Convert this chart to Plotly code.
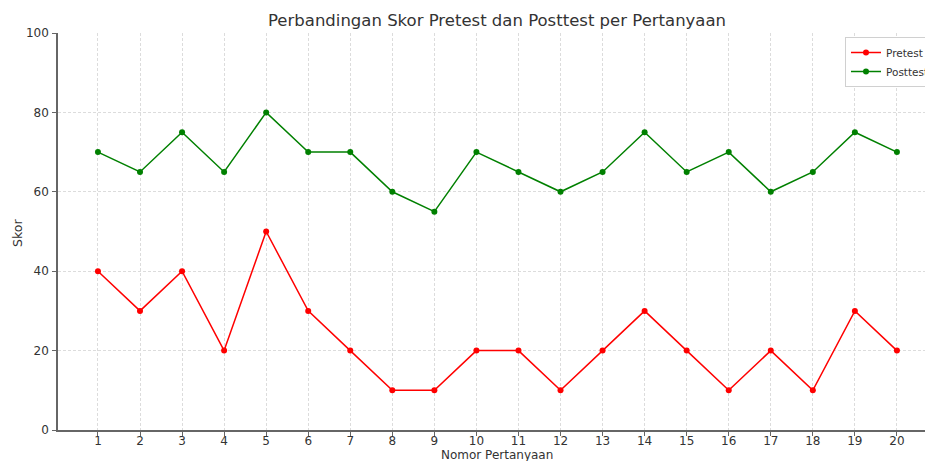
import plotly.graph_objects as go

questions = list(range(1, 21))
pretest = [40, 30, 40, 20, 50, 30, 20, 10, 10, 20, 20, 10, 20, 30, 20, 10, 20, 10, 30, 20]
posttest = [70, 65, 75, 65, 80, 70, 70, 60, 55, 70, 65, 60, 65, 75, 65, 70, 60, 65, 75, 70]

W, H = 925, 461
L, R, T, B = 58, 0, 33, 31

fig = go.Figure()
fig.add_trace(go.Scatter(x=questions, y=pretest, mode="lines+markers", name="Pretest",
                         line=dict(color="#ff0000", width=1.5),
                         marker=dict(color="#ff0000", size=6)))
fig.add_trace(go.Scatter(x=questions, y=posttest, mode="lines+markers", name="Posttest",
                         line=dict(color="#008000", width=1.5),
                         marker=dict(color="#008000", size=6)))

font = "DejaVu Sans, sans-serif"
fig.update_layout(
    width=W, height=H,
    margin=dict(l=L, r=R, t=T, b=B, pad=0, autoexpand=False),
    paper_bgcolor="white", plot_bgcolor="white",
    font=dict(family=font, size=12, color="#333333"),
    showlegend=True,
    legend=dict(x=(845 - L) / (W - L - R), y=1 - (37 - T) / (H - T - B),
                xanchor="left", yanchor="top",
                bordercolor="#d0d0d0", borderwidth=1, bgcolor="white",
                font=dict(size=10.5, color="#333333"),
                itemwidth=30, tracegroupgap=0),
    xaxis=dict(range=[0.05, 1 + (W - R - 97) / 42.1],
               tickmode="array", tickvals=questions, ticktext=[str(q) for q in questions],
               showgrid=True, gridcolor="#dcdcdc", griddash="3px,2px", gridwidth=0.8,
               showline=True, linecolor="#666666", linewidth=1.5,
               ticks="outside", ticklen=4, tickcolor="#666666",
               ticklabelstandoff=-5,
               tickfont=dict(size=12, color="#333333"), zeroline=False),
    yaxis=dict(range=[0, 100], tickvals=[0, 20, 40, 60, 80, 100],
               showgrid=True, gridcolor="#dcdcdc", griddash="3px,2px", gridwidth=0.8,
               showline=True, linecolor="#666666", linewidth=1.5,
               ticks="outside", ticklen=4, tickcolor="#666666",
               ticklabelstandoff=1,
               tickfont=dict(size=12, color="#333333"), zeroline=False),
    annotations=[
        dict(text="Perbandingan Skor Pretest dan Posttest per Pertanyaan",
             xref="paper", yref="paper", x=(497 - L) / (W - L - R), y=1 + (33 - 20) / (H - T - B),
             xanchor="center", yanchor="middle", showarrow=False,
             font=dict(size=16.5, color="#333333", family=font)),
        dict(text="Nomor Pertanyaan", xref="paper", yref="paper",
             x=(497 - L) / (W - L - R), y=-(454.5 - 430) / (H - T - B),
             xanchor="center", yanchor="middle", showarrow=False,
             font=dict(size=12, color="#333333", family=font)),
        dict(text="Skor", xref="paper", yref="paper",
             x=-(L - 17) / (W - L - R), y=(430 - 233) / (H - T - B),
             xanchor="center", yanchor="middle", showarrow=False, textangle=-90,
             font=dict(size=12.5, color="#333333", family=font)),
    ],
)

fig.write_html("out.html", config={"displayModeBar": False},
               post_script="document.body.style.margin='0';document.body.style.overflow='hidden';")
